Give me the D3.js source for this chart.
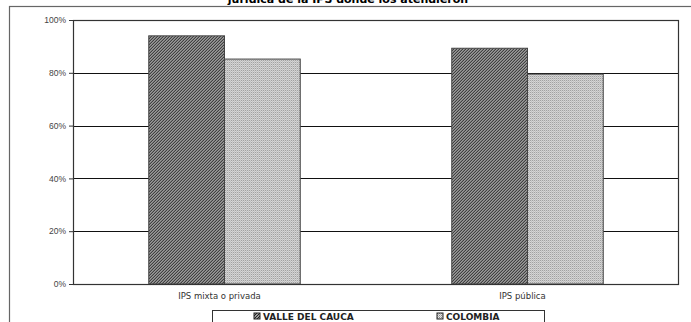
<!DOCTYPE html>
<html lang="es">
<head>
  <meta charset="UTF-8">
  <title>IPS</title>
  <script src="https://d3js.org/d3.v7.min.js"></script>
  <style>
    body { margin: 0; background: #fff; }
    svg { display: block; font-family: "DejaVu Sans", Verdana, sans-serif; }
    .axis text { font-size: 8.5px; fill: #444; }
    .cat-label { font-size: 8.5px; fill: #333; text-anchor: middle; }
    .legend text { font-size: 9px; font-weight: bold; fill: #222; }
    .title { font-size: 11px; font-weight: bold; fill: #000; text-anchor: middle; }
  </style>
</head>
<body>
<svg width="691" height="322"></svg>
<script>
  // Data
  const categories = ["IPS mixta o privada", "IPS pública"];
  const seriesNames = ["VALLE DEL CAUCA", "COLOMBIA"];
  const valle = [0.94, 0.893];
  const colombia = [0.852, 0.795];
  const yTicks = [0, 0.2, 0.4, 0.6, 0.8, 1];

  const width = 691, height = 322;
  const margin = { top: 20, right: 12, bottom: 38, left: 73 };

  const svg = d3.select("svg");

  // patterns
  const defs = svg.append("defs");
  const hatch = defs.append("pattern")
    .attr("id", "hatch")
    .attr("patternUnits", "userSpaceOnUse")
    .attr("width", 3).attr("height", 3);
  hatch.append("rect").attr("width", 3).attr("height", 3).attr("fill", "#9a9a9a");
  hatch.append("path").attr("d", "M-1,1 l2,-2 M0,3 l3,-3 M2,4 l2,-2")
    .attr("stroke", "#222").attr("stroke-width", 1);

  const dots = defs.append("pattern")
    .attr("id", "dots")
    .attr("patternUnits", "userSpaceOnUse")
    .attr("width", 2).attr("height", 2);
  dots.append("rect").attr("width", 2).attr("height", 2).attr("fill", "#e4e4e4");
  dots.append("rect").attr("width", 1).attr("height", 1).attr("fill", "#8a8a8a");
  dots.append("rect").attr("x", 1).attr("y", 1).attr("width", 1).attr("height", 1).attr("fill", "#b5b5b5");

  const fills = ["url(#hatch)", "url(#dots)"];

  // outer frame
  svg.append("rect")
    .attr("x", 9.5).attr("y", 6.5)
    .attr("width", 700).attr("height", 330)
    .attr("fill", "none").attr("stroke", "#666").attr("stroke-width", 1.2);

  // title (second line, cut off at the top like the source image)
  svg.append("text")
    .attr("class", "title")
    .attr("x", 348).attr("y", 3)
    .text("jurídica de la IPS donde los atendieron");

  const x0 = d3.scaleBand()
    .domain(categories)
    .range([margin.left, width - margin.right])
    .paddingInner(0.5)
    .paddingOuter(0.25);

  const x1 = d3.scaleBand()
    .domain(seriesNames)
    .range([0, x0.bandwidth()]);

  const y = d3.scaleLinear()
    .domain([0, 1])
    .range([height - margin.bottom, margin.top]);

  // gridlines
  svg.append("g")
    .selectAll("line")
    .data(yTicks.slice(1, -1))
    .join("line")
    .attr("x1", margin.left).attr("x2", width - margin.right)
    .attr("y1", d => Math.round(y(d)) + 0.5).attr("y2", d => Math.round(y(d)) + 0.5)
    .attr("stroke", "#111").attr("stroke-width", 1);

  // y axis
  const yAxis = svg.append("g")
    .attr("class", "axis")
    .attr("transform", `translate(${margin.left},0)`)
    .call(d3.axisLeft(y).tickValues(yTicks).tickFormat(d3.format(".0%")).tickSize(4).tickPadding(3));
  yAxis.select(".domain").remove();
  yAxis.selectAll("line").attr("stroke", "#333");

  // bars
  const rows = categories.map((c, i) => ({ cat: c, values: [valle[i], colombia[i]] }));
  svg.append("g")
    .selectAll("g")
    .data(rows)
    .join("g")
    .attr("transform", d => `translate(${x0(d.cat)},0)`)
    .selectAll("rect")
    .data(d => d.values.map((v, j) => ({ v, j })))
    .join("rect")
    .attr("x", d => x1(seriesNames[d.j]))
    .attr("y", d => y(d.v))
    .attr("width", x1.bandwidth())
    .attr("height", d => y(0) - y(d.v))
    .attr("fill", d => fills[d.j])
    .attr("stroke", "#444")
    .attr("stroke-width", 1);

  // plot border
  svg.append("rect")
    .attr("x", margin.left + 0.5).attr("y", margin.top + 0.5)
    .attr("width", width - margin.left - margin.right - 1)
    .attr("height", height - margin.top - margin.bottom)
    .attr("fill", "none").attr("stroke", "#333").attr("stroke-width", 1.2);

  // category labels
  svg.append("g")
    .selectAll("text")
    .data(categories)
    .join("text")
    .attr("class", "cat-label")
    .attr("x", d => x0(d) + x0.bandwidth() / 2 - 5)
    .attr("y", height - margin.bottom + 15)
    .text(d => d);

  // legend
  const legend = svg.append("g").attr("class", "legend");
  legend.append("rect")
    .attr("x", 212.5).attr("y", 310.5)
    .attr("width", 332).attr("height", 20)
    .attr("fill", "#fff").attr("stroke", "#333").attr("stroke-width", 1);
  const legX = [254, 437];
  const items = legend.selectAll("g.item")
    .data(seriesNames)
    .join("g")
    .attr("class", "item")
    .attr("transform", (d, i) => `translate(${legX[i]},313)`);
  items.append("rect")
    .attr("width", 6).attr("height", 6)
    .attr("fill", (d, i) => fills[i])
    .attr("stroke", "#222");
  items.append("text")
    .attr("x", 9).attr("y", 6.5)
    .text(d => d);
</script>
</body>
</html>
